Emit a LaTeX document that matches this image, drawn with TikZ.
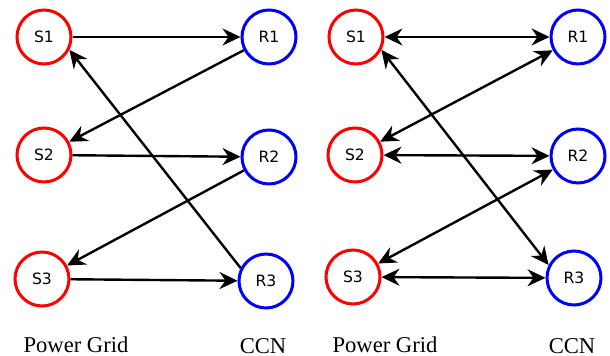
\documentclass[tikz,border=0pt]{standalone}
\usepackage{fontspec}
\setmainfont{Liberation Serif}
\setsansfont{DejaVu Sans}
\usetikzlibrary{arrows.meta}

\begin{document}
\begin{tikzpicture}[x=0.5pt,y=-0.5pt,
 every node/.style={font=\sffamily\fontsize{7.8}{9}\selectfont},
 src/.style={circle,draw=red,line width=1.5pt,minimum size=27pt,inner sep=0pt},
 rcv/.style={circle,draw=blue,line width=1.5pt,minimum size=27pt,inner sep=0pt},
 lbl/.style={font=\rmfamily\fontsize{11.3}{13}\selectfont},
 one/.style={line width=1.2pt,-{Stealth[length=9pt,width=8.5pt,inset=3pt]}},
 two/.style={line width=1.2pt,{Stealth[length=9pt,width=8.5pt,inset=3pt]}-{Stealth[length=9pt,width=8.5pt,inset=3pt]}}]
\useasboundingbox (0,0) rectangle (610,356);
% left: one-way links
\node[src] (S1) at (44,37) {S1};
\node[rcv] (R1) at (269,37) {R1};
\node[src] (S2) at (44,155) {S2};
\node[rcv] (R2) at (269,157) {R2};
\node[src] (S3) at (42,279) {S3};
\node[rcv] (R3) at (266,281) {R3};
\draw[one] (S1)--(R1);
\draw[one] (R1)--(S2);
\draw[one] (S2)--(R2);
\draw[one] (R2)--(S3);
\draw[one] (S3)--(R3);
\draw[one] (R3.153)--(S1.-27);
\node[lbl] (pg1) at (76,345) {Power Grid};
\node[lbl] (ccn1) at (263,346) {CCN};
% right: two-way links
\node[src] (S1r) at (356,37) {S1};
\node[rcv] (R1r) at (578,37) {R1};
\node[src] (S2r) at (355,155) {S2};
\node[rcv] (R2r) at (578,156) {R2};
\node[src] (S3r) at (353,277) {S3};
\node[rcv] (R3r) at (574,278) {R3};
\draw[two] (S1r)--(R1r);
\draw[two] (S2r)--(R1r);
\draw[two] (S2r)--(R2r);
\draw[two] (S3r)--(R2r);
\draw[two] (S3r)--(R3r);
\draw[two] (S1r.-27)--(R3r.153);
\node[lbl] (pg2) at (385,345) {Power Grid};
\node[lbl] (ccn2) at (572,346) {CCN};
\end{tikzpicture}
\end{document}
